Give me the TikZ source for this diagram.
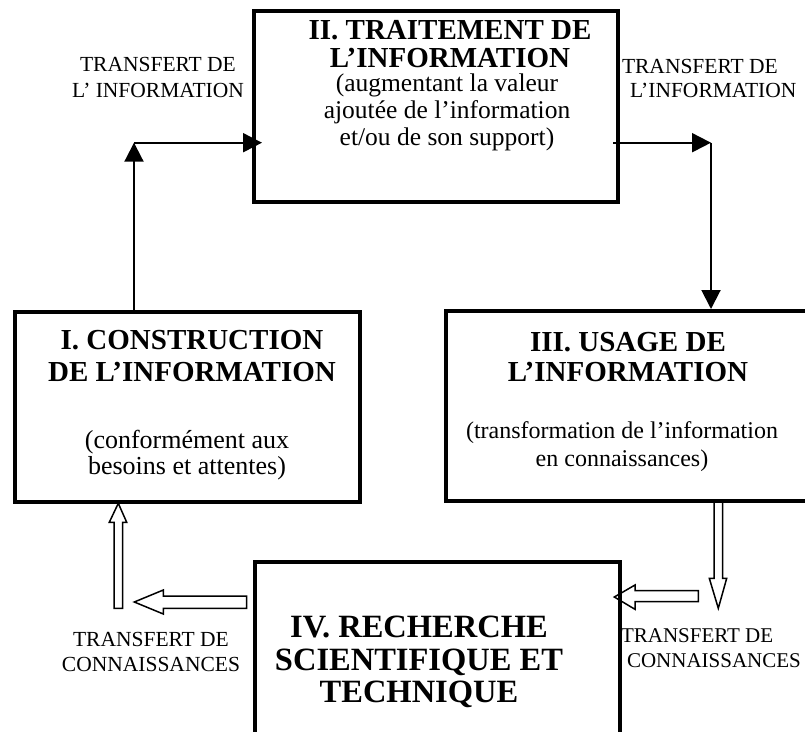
\documentclass[tikz,border=0pt]{standalone}
\usepackage{fontspec}
\setmainfont{Liberation Serif}
\usetikzlibrary{arrows.meta,calc}
\tikzset{
  boxnode/.style={draw, line width=4pt, inner sep=0pt, fill=none},
  txt/.style={inner sep=0pt, outer sep=0pt, align=center},
  conn/.style={line width=2pt, -{Triangle[length=19pt,width=19pt]}},
  hollow/.style={line width=1.5pt, line join=miter},
}
\begin{document}
\begin{tikzpicture}[x=1pt,y=-1pt]
\useasboundingbox (0,0) rectangle (805,731);
% boxes
\node[boxnode, minimum width=345.5pt, minimum height=189.5pt] (boxI) at (187.25,406.75) {};
\node[boxnode, minimum width=364pt, minimum height=191pt] (boxII) at (436,106) {};
\node[boxnode, minimum width=364pt, minimum height=190pt] (boxIII) at (628,406) {};
\node[boxnode, minimum width=364.7pt, minimum height=183pt] (boxIV) at (437.35,653.5) {};
% box texts
\node[txt, font={\fontsize{29}{27}\selectfont\bfseries}] (tIIa) at (450,47.7) {\strut II. TRAITEMENT DE\\\strut L’INFORMATION};
\node[txt, font={\fontsize{25.5}{27}\selectfont}] (tIIb) at (447,113) {\strut (augmentant la valeur\\\strut ajoutée de l’information\\\strut et/ou de son support)};
\node[txt, font={\fontsize{29}{32}\selectfont\bfseries}] (tIa) at (192,359.2) {\strut I. CONSTRUCTION\\\strut DE L’INFORMATION};
\node[txt, font={\fontsize{26}{26}\selectfont}] (tIb) at (187,456.1) {\strut (conformément aux\\\strut besoins et attentes)};
\node[txt, font={\fontsize{29}{30}\selectfont\bfseries}] (tIIIa) at (628,360.6) {\strut III. USAGE DE\\\strut L’INFORMATION};
\node[txt, font={\fontsize{24}{28}\selectfont}] (tIIIb) at (622,447.1) {\strut (transformation de l’information\\\strut en connaissances)};
\node[txt, font={\fontsize{32.5}{32.5}\selectfont\bfseries}] (tIV) at (419,663.7) {\strut IV. RECHERCHE\\\strut SCIENTIFIQUE ET\\\strut TECHNIQUE};
% labels
\node[txt, font={\fontsize{21.5}{26}\selectfont}] (ltl) at (158,78.9) {\strut TRANSFERT DE\\\strut L’ INFORMATION};
\node[txt, align=left, anchor=west, font={\fontsize{21.5}{24}\selectfont}] (ltr) at (622,80.3) {\strut TRANSFERT DE\\\strut\hspace*{8pt}L’INFORMATION};
\node[txt, font={\fontsize{21.5}{25}\selectfont}] (lbl) at (151,653.6) {\strut TRANSFERT DE\\\strut CONNAISSANCES};
\node[txt, align=left, anchor=west, font={\fontsize{21}{25}\selectfont}] (lbr) at (621,649.6) {\strut TRANSFERT DE\\\strut\hspace*{6pt}CONNAISSANCES};
% connectors
\coordinate (c1) at (134,142.7);
\coordinate (c2) at (711,142.7);
\draw[conn] (boxI.north -| c1) -- (c1);
\draw[conn] (c1) -- ($(c1 -| boxII.west)+(10,0)$);
\draw[conn] ($(boxII.east |- c2)+(-7,0)$) -- (c2);
\draw[conn] (c2) -- (c2 |- boxIII.north);
% hollow arrows
\draw[hollow] (114,608.3) -- (114,522.3) -- (109.3,522.3) -- (118.3,503.3) -- (126.7,522.3) -- (122.5,522.3) -- (122.5,608.3) -- cycle;
\draw[hollow] (246.7,596) -- (163.3,596) -- (163.3,590) -- (134.3,602) -- (163.3,614) -- (163.3,608.3) -- (246.7,608.3) -- cycle;
\draw[hollow] (714,501.5) -- (714,578.3) -- (709.3,578.3) -- (718.3,608.3) -- (726.7,578.3) -- (722.5,578.3) -- (722.5,501.5) -- cycle;
\draw[hollow] (698.3,590.7) -- (635,590.7) -- (635,585) -- (614.3,597) -- (635,609.3) -- (635,601.7) -- (698.3,601.7) -- cycle;
\end{tikzpicture}
\end{document}
